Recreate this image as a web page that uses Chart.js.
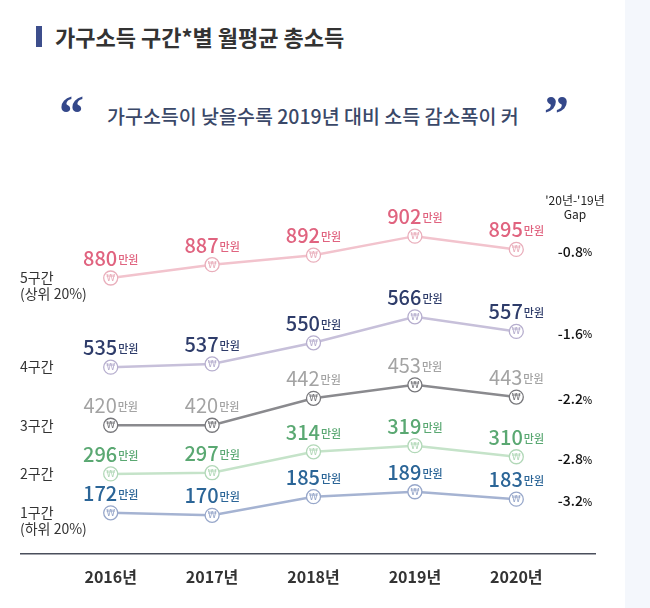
<!DOCTYPE html>
<html>
<head>
<meta charset="utf-8">
<script src="https://cdn.jsdelivr.net/npm/chart.js@4"></script>
<style>
    body { margin: 0; background: #fff; font-family: "Noto Sans CJK KR", sans-serif; }
    #wrap { position: relative; width: 650px; height: 608px; overflow: hidden; }
    #panel { position: absolute; left: 625px; top: 0; width: 25px; height: 608px; background: #f4f7fc; }
    #bar { position: absolute; left: 36px; top: 26px; width: 6px; height: 21px; background: #3d4e8c; }
    #title { position: absolute; left: 55px; top: 21px; font-size: 22px; font-weight: 700; color: #333; line-height: 30px; white-space: nowrap; }
    .quote { position: absolute; top: 86px; font-family: "Liberation Serif", serif; font-size: 50px; font-weight: 700; color: #34488a; line-height: 54px; }
    #subtitle { position: absolute; left: 107px; top: 102px; font-size: 19.5px; font-weight: 500; color: #3a4868; line-height: 28px; white-space: nowrap; }
    canvas { position: absolute; left: 0; top: 0; }
</style>
</head>
<body>
<div id="wrap">
    <div id="panel"></div>
    <div id="bar"></div>
    <div id="title">가구소득 구간*별 월평균 총소득</div>
    <div class="quote" style="left:59px">&#8220;</div>
    <div class="quote" style="left:544px">&#8221;</div>
    <div id="subtitle">가구소득이 낮을수록 2019년 대비 소득 감소폭이 커</div>
    <canvas id="incomeChart" width="650" height="608"></canvas>
</div>
<script>
    // 데이터 (단위: 만원)
    const years = ["2016년", "2017년", "2018년", "2019년", "2020년"];
    const groupNames = [["5구간", "(상위 20%)"], ["4구간"], ["3구간"], ["2구간"], ["1구간", "(하위 20%)"]];
    const tier5 = [880, 887, 892, 902, 895];
    const tier4 = [535, 537, 550, 566, 557];
    const tier3 = [420, 420, 442, 453, 443];
    const tier2 = [296, 297, 314, 319, 310];
    const tier1 = [172, 170, 185, 189, 183];
    const gapLabels = ["-0.8", "-1.6", "-2.2", "-2.8", "-3.2"];

    const FONT = '"Noto Sans CJK KR", sans-serif';

    // 구간별 스타일과 세로 눈금 범위
    const styles = [
        { line: "#f2c3cd", point: "#e9aebb", text: "#e0637f", weight: 500, range: [735, 921] },
        { line: "#c7c0da", point: "#b6aece", text: "#2e3c6a", weight: 500, range: [420, 638] },
        { line: "#8a8a8e", point: "#77777b", text: "#a3a3a3", weight: 400, range: [315, 604] },
        { line: "#c5e3c9", point: "#b2d8b8", text: "#5aa872", weight: 500, range: [231, 519] },
        { line: "#a5b3d2", point: "#97a7ca", text: "#2b6597", weight: 500, range: [139, 424] }
    ];
    const series = [tier5, tier4, tier3, tier2, tier1];

    const datasets = series.map((values, i) => ({
        label: groupNames[i].join(" "),
        data: values,
        yAxisID: "y" + i,
        borderColor: styles[i].line,
        borderWidth: 2.5,
        pointStyle: "circle",
        pointRadius: 7,
        pointHoverRadius: 7,
        pointBorderWidth: 1.3,
        pointBackgroundColor: "#fff",
        pointBorderColor: styles[i].point,
        tension: 0
    }));

    const scales = {
        x: {
            offset: true,
            grid: { display: false, drawTicks: false },
            border: { display: false },
            ticks: { color: "#333", font: { family: FONT, size: 16, weight: 700 }, padding: 14 }
        }
    };
    styles.forEach((s, i) => {
        scales["y" + i] = { type: "linear", display: false, min: s.range[0], max: s.range[1] };
    });

    const labelPlugin = {
        id: "labelPlugin",
        afterDraw(chart) {
            const ctx = chart.ctx;
            const area = chart.chartArea;
            ctx.save();

            // 가로 기준선
            ctx.strokeStyle = "#4a4f5c";
            ctx.lineWidth = 1.5;
            ctx.beginPath();
            ctx.moveTo(20, area.bottom);
            ctx.lineTo(596, area.bottom);
            ctx.stroke();

            // 오른쪽 머리글
            ctx.fillStyle = "#222";
            ctx.textAlign = "center";
            ctx.textBaseline = "middle";
            ctx.font = "12px " + FONT;
            ctx.fillText("'20년-'19년", 575, 200);
            ctx.fillText("Gap", 575, 214);

            chart.data.datasets.forEach((ds, i) => {
                const pts = chart.getDatasetMeta(i).data;
                const st = styles[i];

                pts.forEach((p, j) => {
                    // 마커 안의 ₩
                    ctx.fillStyle = st.point;
                    ctx.font = "9px 'DejaVu Sans'";
                    ctx.textAlign = "center";
                    ctx.textBaseline = "middle";
                    ctx.fillText("₩", p.x, p.y + 0.5);

                    // 값 라벨
                    const num = String(ds.data[j]);
                    ctx.font = st.weight + " 20px " + FONT;
                    const w1 = ctx.measureText(num).width;
                    ctx.font = "500 11px " + FONT;
                    const w2 = ctx.measureText("만원").width;
                    const left = p.x - (w1 + w2 + 1) / 2;
                    ctx.textAlign = "left";
                    ctx.textBaseline = "alphabetic";
                    ctx.fillStyle = st.text;
                    ctx.font = st.weight + " 20px " + FONT;
                    ctx.fillText(num, left, p.y - 12);
                    ctx.font = "500 11px " + FONT;
                    ctx.fillText("만원", left + w1 + 1, p.y - 14);
                });

                // 왼쪽 구간 이름
                ctx.fillStyle = "#333";
                ctx.font = "14px " + FONT;
                ctx.textAlign = "left";
                ctx.textBaseline = "middle";
                groupNames[i].forEach((t, k) => {
                    ctx.fillText(t, 20, pts[0].y + k * 16);
                });

                // 오른쪽 Gap 값
                const last = pts[pts.length - 1];
                ctx.fillStyle = "#111";
                ctx.font = "500 14px " + FONT;
                const g = gapLabels[i];
                const gw = ctx.measureText(g).width;
                ctx.font = "500 10px " + FONT;
                const pw = ctx.measureText("%").width;
                const gx = 575 - (gw + pw) / 2;
                ctx.font = "500 14px " + FONT;
                ctx.fillText(g, gx, last.y + 2);
                ctx.font = "500 10px " + FONT;
                ctx.fillText("%", gx + gw, last.y + 3);
            });
            ctx.restore();
        }
    };

    new Chart(document.getElementById("incomeChart"), {
        type: "line",
        data: { labels: years, datasets: datasets },
        options: {
            responsive: false,
            animation: false,
            layout: { padding: { top: 200, bottom: 7, left: 60, right: 83 } },
            plugins: { legend: { display: false }, tooltip: { enabled: false } },
            scales: scales
        },
        plugins: [labelPlugin]
    });
</script>
</body>
</html>
